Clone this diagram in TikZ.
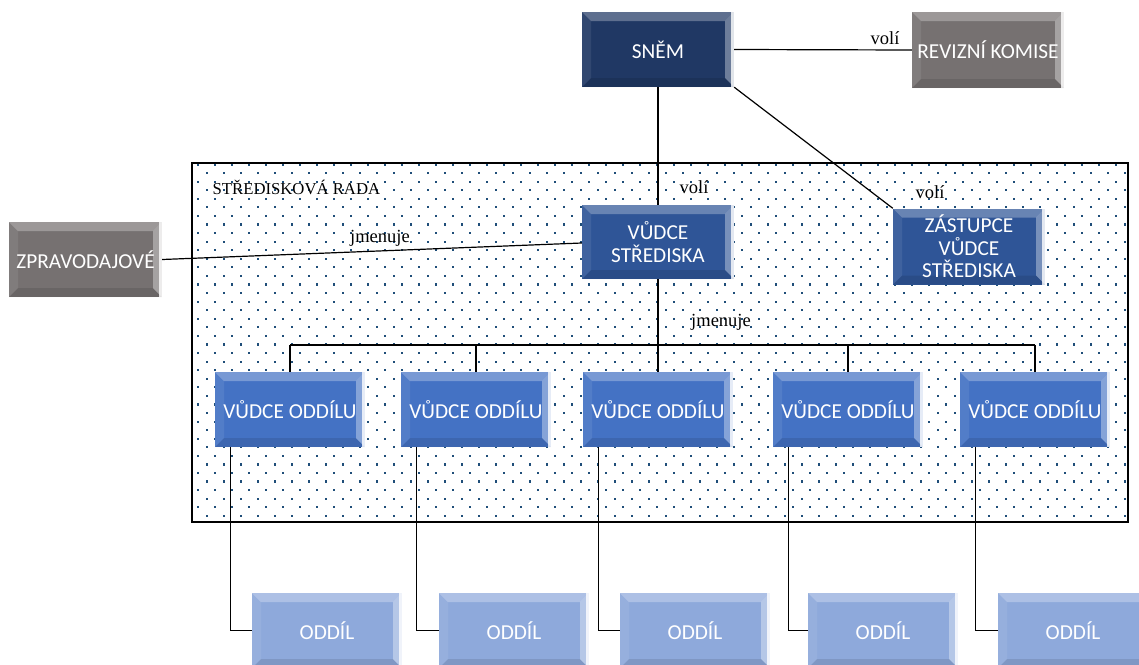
\documentclass[tikz,border=0pt]{standalone}
\usepackage{fontspec}
\setmainfont{Liberation Serif}
\newfontfamily\boxfam{Carlito}
\definecolor{navy}{HTML}{203864}
\definecolor{midblue}{HTML}{2F5597}
\definecolor{vblue}{HTML}{4472C4}
\definecolor{lblue}{HTML}{8EA9DB}
\definecolor{grayb}{HTML}{767171}
\definecolor{dotc}{HTML}{1F4E79}
\tikzset{
  bev/.style={rectangle, minimum width=150pt, minimum height=75pt, inner sep=0pt,
    fill=#1, text=white, align=center,
    font=\boxfam\fontsize{21.3}{22.5}\selectfont,
    path picture={
      \coordinate (NW) at (path picture bounding box.north west);
      \coordinate (NE) at (path picture bounding box.north east);
      \coordinate (SW) at (path picture bounding box.south west);
      \coordinate (SE) at (path picture bounding box.south east);
      \fill[white,opacity=.28] (NW) -- (NE) -- ([shift={(-9pt,-9pt)}]NE) -- ([shift={(9pt,-9pt)}]NW) -- cycle;
      \fill[white,opacity=.08] (NW) -- ([shift={(9pt,-9pt)}]NW) -- ([shift={(9pt,9pt)}]SW) -- (SW) -- cycle;
      \fill[black,opacity=.10] (SW) -- ([shift={(9pt,9pt)}]SW) -- ([shift={(-9pt,9pt)}]SE) -- (SE) -- cycle;
      \fill[white,opacity=.35] (NE) -- (SE) -- ([shift={(-9pt,9pt)}]SE) -- ([shift={(-9pt,-9pt)}]NE) -- cycle;
      \fill[white,opacity=.8] ([xshift=-3pt]NE) rectangle (SE);
    }},
  conn/.style={draw=black, line width=1.2pt},
  lbl/.style={font=\fontsize{18.5}{20}\selectfont, inner sep=0pt},
}
\begin{document}
\begin{tikzpicture}[x=1pt,y=-1pt]
\clip (0,0) rectangle (1139,664);
\fill[white] (0,0) rectangle (1139,664);
% dotted council area
\begin{scope}
  \clip (192,163) rectangle (1128,522);
  \foreach \r in {0,...,42}{
    \pgfmathsetmacro{\yy}{164.5+8.57*\r}
    \pgfmathsetmacro{\xo}{mod(\r,2)==0 ? 198.3 : 206.8}
    \foreach \c in {0,...,55}{
      \fill[dotc] ({\xo+17*\c-1.1},{\yy-1.1}) rectangle ++(2.2,2.2);
    }
  }
\end{scope}
\draw[line width=2pt] (192,163) rectangle (1128,522);
\node[anchor=west, font=\fontsize{16.7}{18}\selectfont, inner sep=0pt] (title) at (212.5,187) {STŘEDISKOVÁ RADA};

% nodes
\node[bev=navy, minimum width=152pt] (snem) at (658,49.5) {SNĚM};
\node[bev=grayb, minimum width=152pt, minimum height=76pt] (rev) at (988,50) {REVIZNÍ KOMISE};
\node[bev=grayb, minimum width=153pt] (zprav) at (85.5,259.5) {ZPRAVODAJOVÉ};
\node[bev=midblue, minimum width=152pt, minimum height=74pt] (vs) at (658,242) {VŮDCE\\STŘEDISKA};
\node[bev=midblue, minimum width=152pt, minimum height=76pt] (zast) at (969,246.5) {ZÁSTUPCE\\VŮDCE\\STŘEDISKA};
\foreach \i/\x in {1/290,2/476,3/658,4/848,5/1035}{
  \node[bev=vblue, minimum width=150pt] (vo\i) at (\x,409.5) {VŮDCE ODDÍLU};
}
\foreach \i/\x in {1/327,2/514,3/695,4/883,5/1073}{
  \node[bev=lblue, minimum width=150pt] (od\i) at (\x,630.5) {ODDÍL};
}

% connectors
\draw[conn] (snem.east) -- (rev.west);
\draw[conn] (snem.south) -- (vs.north);
\draw[conn] (snem.south east) -- (zast.north west);
\draw[conn] (zprav.east) -- ([yshift=-1pt]vs.west);
\coordinate (bus) at (658,345);
\draw[conn] (vs.south) -- (bus);
\draw[conn] (vo1.north |- bus) -- (vo5.north |- bus);
\foreach \i in {1,...,5}{
  \draw[conn] (vo\i.north |- bus) -- (vo\i.north);
  \draw[conn] ([xshift=16pt]vo\i.south west) |- (od\i.west);
}

% labels
\node[lbl] (l1) at (885,38) {volí};
\node[lbl] (l2) at (694,187) {volí};
\node[lbl] (l3) at (930,192) {volí};
\node[lbl] (l4) at (380,238) {jmenuje};
\node[lbl] (l5) at (721,322) {jmenuje};
\end{tikzpicture}
\end{document}
